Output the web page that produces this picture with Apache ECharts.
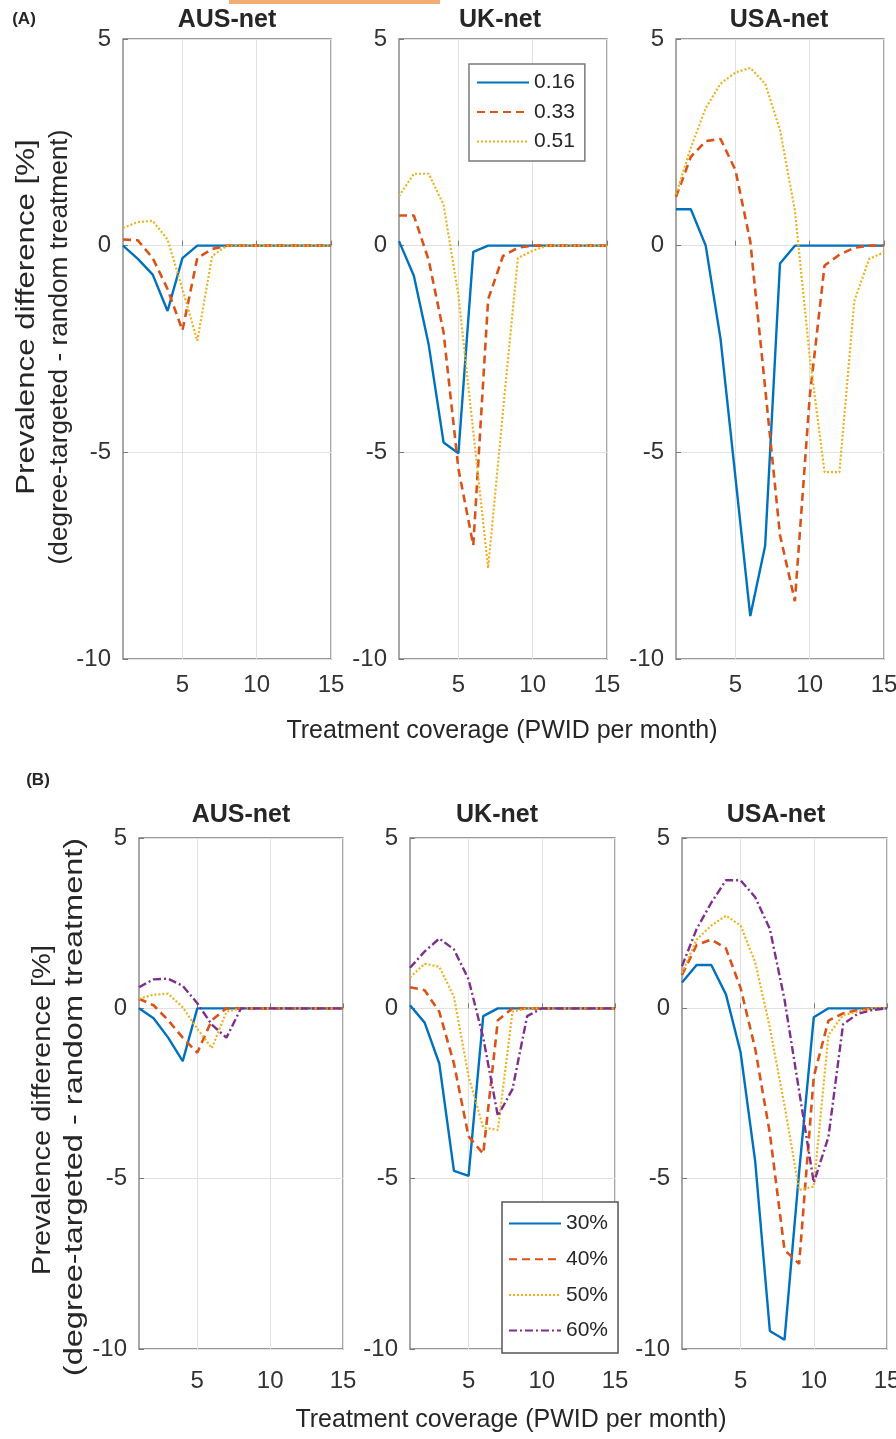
<!DOCTYPE html>
<html>
<head>
<meta charset="utf-8">
<script src="https://cdn.jsdelivr.net/npm/echarts@6/dist/echarts.min.js"></script>
<style>
html,body{margin:0;padding:0;background:#fff;}
#chart{width:896px;height:1439px;}
</style>
</head>
<body>
<div id="chart"></div>
<script>
// ---------- data ----------
const xValues = [1,2,3,4,5,6,7,8,9,10,11,12,13,14,15];
const panelNames = ['AUS-net','UK-net','USA-net'];
const legendA = ['0.16','0.33','0.51'];
const legendB = ['30%','40%','50%','60%'];
const xTickValues = [5,10,15];
const yTickValues = [-10,-5,0,5];
const xAxisTitle = 'Treatment coverage (PWID per month)';
const yAxisTitle1 = 'Prevalence difference [%]';
const yAxisTitle2 = '(degree-targeted - random treatment)';

// Panel A: AUS-net
const A_AUS_016 = [0, -0.32, -0.70, -1.58, -0.30, 0, 0, 0, 0, 0, 0, 0, 0, 0, 0];
const A_AUS_033 = [0.15, 0.13, -0.30, -1.05, -2.05, -0.30, -0.08, 0, 0, 0, 0, 0, 0, 0, 0];
const A_AUS_051 = [0.43, 0.57, 0.60, 0.15, -1.05, -2.30, -0.25, 0, 0, 0, 0, 0, 0, 0, 0];
// Panel A: UK-net
const A_UK_016 = [0.11, -0.73, -2.40, -4.76, -5.02, -0.15, 0, 0, 0, 0, 0, 0, 0, 0, 0];
const A_UK_033 = [0.73, 0.73, -0.35, -2.10, -5.40, -7.25, -1.30, -0.25, -0.05, 0, 0, 0, 0, 0, 0];
const A_UK_051 = [1.20, 1.74, 1.74, 0.99, -1.20, -4.50, -7.80, -4.00, -0.30, -0.12, 0, 0, 0, 0, 0];
// Panel A: USA-net
const A_USA_016 = [0.88, 0.88, 0, -2.26, -5.60, -8.96, -7.26, -0.43, 0, 0, 0, 0, 0, 0, 0];
const A_USA_033 = [1.18, 2.15, 2.53, 2.58, 1.83, 0.10, -3.44, -7.00, -8.60, -3.66, -0.48, -0.22, -0.05, 0, 0];
const A_USA_051 = [1.24, 2.37, 3.33, 3.92, 4.19, 4.30, 3.92, 2.80, 0.86, -2.69, -5.48, -5.48, -1.34, -0.32, -0.16];

// Panel B: AUS-net
const B_AUS_30 = [0, -0.29, -0.86, -1.55, 0, 0, 0, 0, 0, 0, 0, 0, 0, 0, 0];
const B_AUS_40 = [0.28, 0.09, -0.35, -0.86, -1.30, -0.35, 0, 0, 0, 0, 0, 0, 0, 0, 0];
const B_AUS_50 = [0.28, 0.40, 0.43, 0.03, -0.60, -1.17, -0.10, 0, 0, 0, 0, 0, 0, 0, 0];
const B_AUS_60 = [0.62, 0.85, 0.87, 0.66, 0.15, -0.48, -0.86, 0, 0, 0, 0, 0, 0, 0, 0];
// Panel B: UK-net
const B_UK_30 = [0.09, -0.42, -1.62, -4.77, -4.92, -0.23, 0, 0, 0, 0, 0, 0, 0, 0, 0];
const B_UK_40 = [0.62, 0.53, -0.10, -1.62, -3.76, -4.27, -0.35, 0, 0, 0, 0, 0, 0, 0, 0];
const B_UK_50 = [0.91, 1.31, 1.22, 0.34, -2.00, -3.50, -3.57, -0.10, 0, 0, 0, 0, 0, 0, 0];
const B_UK_60 = [1.19, 1.67, 2.05, 1.73, 0.85, -0.86, -3.16, -2.37, -0.23, 0, 0, 0, 0, 0, 0];
// Panel B: USA-net
const B_USA_30 = [0.76, 1.27, 1.27, 0.41, -1.29, -4.50, -9.47, -9.73, -4.80, -0.26, 0, 0, 0, 0, 0];
const B_USA_40 = [0.98, 1.86, 2.02, 1.76, 0.60, -1.19, -3.67, -7.09, -7.50, -2.00, -0.36, -0.15, -0.05, 0, 0];
const B_USA_50 = [1.04, 2.02, 2.43, 2.72, 2.43, 1.35, -0.57, -2.85, -5.33, -5.23, -0.78, -0.20, -0.10, 0, 0];
const B_USA_60 = [1.24, 2.33, 3.10, 3.76, 3.76, 3.26, 2.33, 0.26, -2.43, -5.12, -3.78, -0.47, -0.16, -0.05, 0];

// ---------- styling ----------
const FONT = '"Liberation Sans", Arial, Helvetica, sans-serif';
const COLORS = ['#0072BD', '#D95319', '#EDB120', '#7E2F8E'];
const DASHES = ['solid', [8, 5], [2, 2], [8, 3, 2, 3]];
const WIDTHS = [2.4, 2.6, 2.2, 2.4];

const gridsA = [
  {left: 123, top: 39, width: 208, height: 620},
  {left: 399, top: 39, width: 208, height: 620},
  {left: 676, top: 39, width: 208, height: 620}
];
const gridsB = [
  {left: 139, top: 838, width: 204, height: 511},
  {left: 410, top: 838, width: 205, height: 511},
  {left: 682, top: 838, width: 205, height: 511}
];

const seriesA = [
  [A_AUS_016, A_AUS_033, A_AUS_051],
  [A_UK_016, A_UK_033, A_UK_051],
  [A_USA_016, A_USA_033, A_USA_051]
];
const seriesB = [
  [B_AUS_30, B_AUS_40, B_AUS_50, B_AUS_60],
  [B_UK_30, B_UK_40, B_UK_50, B_UK_60],
  [B_USA_30, B_USA_40, B_USA_50, B_USA_60]
];

const grid = [], xAxis = [], yAxis = [], series = [];

function addPanel(g, xLabelMargin) {
  const idx = grid.length;
  grid.push(Object.assign({show: true, borderColor: '#7a7a7a', borderWidth: 1.3, backgroundColor: 'transparent', outerBoundsMode: 'none'}, g));
  xAxis.push({
    type: 'value', gridIndex: idx, min: 1, max: 15,
    axisLine: {show: false},
    axisTick: {show: true, inside: true, length: 5, customValues: xTickValues, lineStyle: {color: '#7a7a7a'}},
    axisLabel: {show: true, customValues: xTickValues, fontSize: 24, fontFamily: FONT, color: '#333', margin: xLabelMargin},
    splitLine: {show: true, lineStyle: {color: '#e2e2e2', width: 1}}
  });
  yAxis.push({
    type: 'value', gridIndex: idx, min: -10, max: 5, interval: 5,
    axisLine: {show: false},
    axisTick: {show: true, inside: true, length: 5, lineStyle: {color: '#7a7a7a'}},
    axisLabel: {show: true, fontSize: 24, fontFamily: FONT, color: '#333', margin: 12},
    splitLine: {show: true, lineStyle: {color: '#e2e2e2', width: 1}}
  });
  return idx;
}

function lineData(vals) {
  return xValues.map((x, i) => [x, vals[i]]);
}

function addSeries(panelSeries, names, gridIdx) {
  panelSeries.forEach((vals, k) => {
    series.push({
      type: 'line', name: names[k], xAxisIndex: gridIdx, yAxisIndex: gridIdx,
      data: lineData(vals), showSymbol: false, symbol: 'none', smooth: false,
      lineStyle: {color: COLORS[k], width: WIDTHS[k], type: DASHES[k]},
      itemStyle: {color: COLORS[k]}, z: 2 + k
    });
  });
}

gridsA.forEach((g, p) => addSeries(seriesA[p], legendA, addPanel(g, 14)));
gridsB.forEach((g, p) => addSeries(seriesB[p], legendB, addPanel(g, 20)));

function txt(text, x, y, font) {
  return {
    type: 'text', x: x, y: y, silent: true,
    style: {text: text, font: font, fill: '#262626', align: 'center', verticalAlign: 'middle',
            textAlign: 'center', textVerticalAlign: 'middle'}
  };
}
function rot(text, x, y, font, stretch) {
  return {
    type: 'text', x: x, y: y, rotation: Math.PI / 2, scaleX: stretch, scaleY: 1, silent: true,
    style: {text: text, font: font, fill: '#262626', align: 'center', verticalAlign: 'middle',
            textAlign: 'center', textVerticalAlign: 'middle'}
  };
}

const titleFont = 'bold 25px ' + FONT;
const labelFont = '25px ' + FONT;
const graphic = [
  {type: 'rect', shape: {x: 229, y: 0, width: 211, height: 4}, style: {fill: '#F2AE72'}, silent: true},
  txt('(A)', 24, 19, 'bold 17px ' + FONT),
  txt('(B)', 38, 780, 'bold 17px ' + FONT),
  txt(panelNames[0], 227, 20, titleFont),
  txt(panelNames[1], 500, 20, titleFont),
  txt(panelNames[2], 779, 20, titleFont),
  txt(panelNames[0], 241, 815, titleFont),
  txt(panelNames[1], 497, 815, titleFont),
  txt(panelNames[2], 776, 815, titleFont),
  txt(xAxisTitle, 502, 731, labelFont),
  txt(xAxisTitle, 511, 1420, labelFont),
  rot(yAxisTitle1, 27, 317, labelFont, 1.25),
  rot(yAxisTitle2, 60, 347, labelFont, 1.05),
  rot(yAxisTitle1, 43, 1110, labelFont, 1.16),
  rot(yAxisTitle2, 75, 1107, labelFont, 1.3)
];

const legend = [
  {
    data: legendA, orient: 'vertical', left: 469, top: 64,
    itemWidth: 52, itemHeight: 14, itemGap: 8.5,
    padding: [8, 10, 9, 7],
    itemStyle: {opacity: 0},
    backgroundColor: '#fff', borderColor: '#7a7a7a', borderWidth: 1.5,
    textStyle: {fontSize: 21, fontFamily: FONT, color: '#262626'},
    selectedMode: false
  },
  {
    data: legendB, orient: 'vertical', left: 502, top: 1202,
    itemWidth: 52, itemHeight: 14, itemGap: 14.7,
    padding: [11, 10, 12, 6],
    itemStyle: {opacity: 0},
    backgroundColor: '#fff', borderColor: '#555', borderWidth: 1.5,
    textStyle: {fontSize: 21, fontFamily: FONT, color: '#262626'},
    selectedMode: false
  }
];

const chart = echarts.init(document.getElementById('chart'), null, {renderer: 'canvas'});
chart.setOption({
  animation: false,
  backgroundColor: '#fff',
  grid: grid, xAxis: xAxis, yAxis: yAxis, series: series,
  legend: legend, graphic: graphic
});
</script>
</body>
</html>
